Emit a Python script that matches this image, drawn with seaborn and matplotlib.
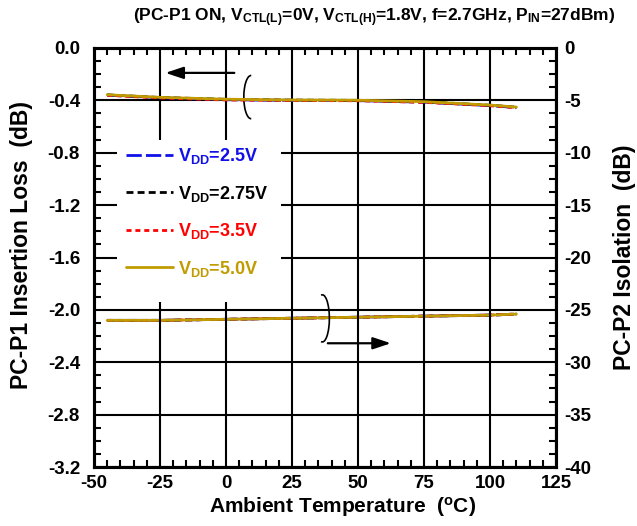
import numpy as np
import pandas as pd
import seaborn as sns
import matplotlib
matplotlib.use("Agg")
import matplotlib.pyplot as plt
from matplotlib.ticker import MultipleLocator, AutoMinorLocator
from matplotlib.patches import Arc, Rectangle

# ---------------- data ----------------
temps = [-45, -25, 0, 25, 50, 75, 100, 110]
vdd_labels = ["2.5V", "2.75V", "3.5V", "5.0V"]
il_25 = [-0.360, -0.380, -0.395, -0.400, -0.402, -0.414, -0.440, -0.455]
il_275 = [-0.358, -0.378, -0.392, -0.398, -0.400, -0.411, -0.437, -0.452]
il_35 = [-0.361, -0.382, -0.397, -0.401, -0.403, -0.415, -0.441, -0.456]
il_50 = [-0.357, -0.377, -0.391, -0.397, -0.399, -0.410, -0.436, -0.451]
iso_25 = [-26.0, -26.0, -25.9, -25.8, -25.7, -25.6, -25.5, -25.4]
iso_275 = [-26.0, -26.0, -25.9, -25.8, -25.7, -25.6, -25.5, -25.4]
iso_35 = [-26.0, -26.0, -25.9, -25.8, -25.7, -25.6, -25.5, -25.4]
iso_50 = [-26.0, -26.0, -25.9, -25.8, -25.7, -25.6, -25.5, -25.4]

il_series = [il_25, il_275, il_35, il_50]
iso_series = [iso_25, iso_275, iso_35, iso_50]

colors = ["#1010E8", "#000000", "#FF0000", "#C09C00"]
dashes = [(5.5, 1.5), (2.5, 1.5), (1.8, 1.4), None]

# ---------------- style ----------------
sns.set_theme(style="white")
plt.rcParams["font.family"] = ["Liberation Sans", "DejaVu Sans"]
plt.rcParams["font.weight"] = "bold"
plt.rcParams["axes.labelweight"] = "bold"
plt.rcParams["axes.unicode_minus"] = False
plt.rcParams["text.color"] = "black"
plt.rcParams["axes.labelcolor"] = "black"
plt.rcParams["xtick.color"] = "black"
plt.rcParams["ytick.color"] = "black"
plt.rcParams["mathtext.fontset"] = "custom"
plt.rcParams["mathtext.rm"] = "Liberation Sans:bold"
plt.rcParams["mathtext.it"] = "Liberation Sans:bold"
plt.rcParams["mathtext.bf"] = "Liberation Sans:bold"
plt.rcParams["mathtext.default"] = "rm"
TICK_FS = 13.5
plt.rcParams["xtick.labelsize"] = TICK_FS
plt.rcParams["ytick.labelsize"] = TICK_FS

fig = plt.figure(figsize=(6.37, 5.26), dpi=100)
ax = fig.add_axes([94 / 637, 59 / 526, 462 / 637, 419 / 526])
ax2 = ax.twinx()

lw = 2.0
for vals, lab, c, d in zip(il_series, vdd_labels, colors, dashes):
    df = pd.DataFrame({"T": temps, "v": vals})
    kw = dict(color=c, linewidth=lw, label=r"V$_{DD}$=" + lab)
    if d is not None:
        kw["dashes"] = d
    sns.lineplot(data=df, x="T", y="v", ax=ax, legend=False, **kw)

for vals, c, d in zip(iso_series, colors, dashes):
    df = pd.DataFrame({"T": temps, "v": vals})
    kw = dict(color=c, linewidth=lw)
    if d is not None:
        kw["dashes"] = d
    sns.lineplot(data=df, x="T", y="v", ax=ax2, legend=False, **kw)

ax.set_xlim(-50, 125)
ax.set_ylim(-3.2, 0.0)
ax2.set_ylim(-40, 0)

ax.xaxis.set_major_locator(MultipleLocator(25))
ax.xaxis.set_minor_locator(MultipleLocator(5))
ax.yaxis.set_major_locator(MultipleLocator(0.4))
ax.yaxis.set_minor_locator(MultipleLocator(0.1))
ax2.yaxis.set_major_locator(MultipleLocator(5))
ax2.yaxis.set_minor_locator(AutoMinorLocator(4))
ax.yaxis.set_major_formatter(matplotlib.ticker.FormatStrFormatter("%.1f"))

ax.grid(True, which="major", color="black", linewidth=1.5)
ax.set_axisbelow(True)
ax2.grid(False)

for a in (ax, ax2):
    for s in a.spines.values():
        s.set_linewidth(2.2)
        s.set_color("black")

ax.tick_params(axis="x", which="major", direction="in", length=0, pad=6)
ax.tick_params(axis="y", which="major", direction="in", length=0, pad=10)
ax.tick_params(axis="x", which="minor", direction="in", length=5, width=1.5, top=True, bottom=True)
ax.tick_params(axis="y", which="minor", direction="in", length=5, width=1.5, left=True, right=False)
ax2.tick_params(axis="y", which="major", direction="in", length=0, pad=6)
ax2.tick_params(axis="y", which="minor", direction="in", length=5, width=1.5, right=True)

ax.set_xlabel(r"Ambient Temperature  ($^{o}$C)", fontsize=15, fontweight="bold", color="black")
ax.set_ylabel("PC-P1 Insertion Loss  (dB)", fontsize=16.5, fontweight="bold", color="black")
ax2.set_ylabel("PC-P2 Isolation  (dB)", fontsize=16.5, fontweight="bold", color="black")
ax.xaxis.set_label_coords(0.537, -0.068)
ax.yaxis.set_label_coords(-0.132, 0.53)
ax2.yaxis.set_label_coords(1.123, 0.50)

fig.text(374 / 637, 1 - 18 / 526,
         r"(PC-P1 ON, V$_{CTL(L)}$=0V, V$_{CTL(H)}$=1.8V, f=2.7GHz, P$_{IN}$=27dBm)",
         ha="center", va="center", fontsize=12.5, fontweight="bold", color="black")

# white block behind the legend (hides the grid as in the reference)
ax.add_patch(Rectangle((0.0498, 0.394), 0.355, 0.386, transform=ax.transAxes,
                       facecolor="white", edgecolor="none", zorder=1))

leg = ax.legend(loc="upper left", bbox_to_anchor=(0.05, 0.787), borderaxespad=0,
                frameon=False, handlelength=2.6, handletextpad=0.25,
                labelspacing=0.97, borderpad=0.5, labelcolor="linecolor",
                prop={"weight": "bold", "size": 13})
leg.set_zorder(5)

# annotations: arrows and ellipses
ax.annotate("", xy=(-24, -0.19), xytext=(4.2, -0.19),
            arrowprops=dict(arrowstyle="-|>,head_length=0.9,head_width=0.3", color="black", lw=1.6))
ax.add_patch(Arc((9.5, -0.375), 5.5, 0.33, theta1=70, theta2=290, color="black", lw=1.2))
ax.add_patch(Arc((36.5, -2.065), 5.3, 0.36, theta1=200, theta2=160, color="black", lw=1.2))
ax.annotate("", xy=(63.5, -2.255), xytext=(37.5, -2.255),
            arrowprops=dict(arrowstyle="-|>,head_length=0.9,head_width=0.3", color="black", lw=1.6))

ax.set_zorder(ax2.get_zorder() + 1)
ax.patch.set_visible(False)

fig.savefig("out.png", dpi=100)
